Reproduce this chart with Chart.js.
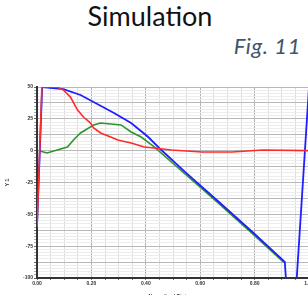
<!DOCTYPE html>
<html>
<head>
<meta charset="utf-8">
<script src="https://cdn.jsdelivr.net/npm/chart.js@4"></script>
<style>
  html, body { margin: 0; padding: 0; background: #fff; overflow: hidden; width: 308px; height: 295px; }
  .title { position: absolute; left: 50px; width: 200px; top: -2px; text-align: center;
           font-family: Lato, sans-serif; font-size: 27px; color: #111; line-height: 36px; }
  .fig { position: absolute; right: 7px; top: 32px; font-family: Lato, sans-serif; font-style: italic;
         font-size: 22px; letter-spacing: 0.6px; color: #44546a; line-height: 28px; }
  .wrap { position: absolute; left: 0; top: 80px; width: 312px; height: 222px; }
</style>
</head>
<body>
<div class="title">Simulation</div>
<div class="fig">Fig. 11</div>
<div class="wrap"><canvas id="simChart"></canvas></div>
<script>
// values
const redX   = [0.000, 0.018, 0.074, 0.097, 0.123, 0.149, 0.171, 0.197, 0.208, 0.234, 0.271, 0.297, 0.346, 0.394, 0.431, 0.494, 0.606, 0.717, 0.829, 1.000];
const redY   = [-60, 50, 50, 47.6, 42.1, 31.9, 26.4, 21.7, 17.8, 13.9, 10.7, 8.4, 6.0, 2.9, 2.1, 0.5, -1.0, -1.0, 0.5, 0];

const blueX  = [0.000, 0.019, 0.097, 0.160, 0.208, 0.283, 0.346, 0.409, 0.457, 0.543, 0.669, 0.792, 0.903, 0.911, 0.915, 0.955, 1.000];
const blueY  = [-60, 50, 48.4, 43.7, 38.2, 29.6, 21.7, 10.7, 0.5, -16.5, -40.3, -63.9, -85.8, -87.4, -100, -100, 50];

const greenX = [0.007, 0.037, 0.074, 0.112, 0.134, 0.160, 0.178, 0.208, 0.234, 0.271, 0.309, 0.346, 0.383, 0.431, 0.494, 0.669, 0.792, 0.903, 0.911];
const greenY = [0, -1.8, 0.5, 2.9, 8.4, 13.9, 16.2, 20.2, 21.7, 21.0, 20.2, 14.7, 10.7, 2.9, -8.9, -41.6, -65.2, -87.0, -88.0];

const xMin = 0, xMax = 1, xMinor = 0.05;
const yMin = -100, yMax = 50, yMinor = 2.5;

const toPoints = (xs, ys) => xs.map((x, i) => ({ x: x, y: ys[i] }));

const tickFont = { family: 'Liberation Sans', size: 5, weight: 'bold' };

new Chart(document.getElementById('simChart'), {
    type: 'line',
    data: {
        datasets: [
            { label: 'Red', data: toPoints(redX, redY), borderColor: '#ff2a2a', borderWidth: 1.6 },
            { label: 'Blue', data: toPoints(blueX, blueY), borderColor: '#1f1fff', borderWidth: 1.8 },
            { label: 'Green', data: toPoints(greenX, greenY), borderColor: '#2e952e', borderWidth: 1.6 }
        ]
    },
    options: {
        responsive: true,
        maintainAspectRatio: false,
        animation: false,
        elements: { point: { radius: 0 }, line: { tension: 0 } },
        layout: { padding: { top: 7, right: 3, left: 0, bottom: 0 } },
        plugins: { legend: { display: false }, tooltip: { enabled: false } },
        scales: {
            x: {
                type: 'linear',
                min: xMin, max: xMax,
                afterFit: (s) => { s.paddingLeft = 0; s.paddingRight = 0; },
                border: { color: '#333', width: 2 },
                grid: {
                    tickLength: 2,
                    color: (c) => (c.tick && Math.round(c.tick.value * 100) % 20 === 0) ? '#b4b4b4' : '#dedede',
                    tickColor: '#777'
                },
                ticks: {
                    stepSize: xMinor, autoSkip: false, maxRotation: 0, padding: 1,
                    font: tickFont, color: '#333',
                    callback: (v) => Math.round(v * 100) % 20 === 0 ? v.toFixed(2) : ''
                },
                title: { display: true, text: 'Normalized Distance', font: tickFont, color: '#333', padding: { top: 6, bottom: 2 } }
            },
            y: {
                min: yMin, max: yMax,
                afterFit: (s) => { s.width = 37; s.paddingTop = 0; s.paddingBottom = 0; },
                border: { color: '#333', width: 2 },
                grid: {
                    tickLength: 3,
                    color: (c) => (c.tick && Math.round(c.tick.value * 10) % 125 === 0) ? '#b8b8b8' : '#ececec',
                    tickColor: (c) => (c.tick && Math.round(c.tick.value * 10) % 125 === 0) ? '#666' : '#aaa'
                },
                ticks: {
                    stepSize: yMinor, autoSkip: false, maxTicksLimit: 200, padding: 1,
                    font: tickFont, color: '#333',
                    callback: (v) => v % 25 === 0 ? v : ''
                },
                title: { display: true, text: 'Y 1', font: tickFont, color: '#333', padding: { top: 5, bottom: 4 } }
            }
        }
    }
});
</script>
</body>
</html>
